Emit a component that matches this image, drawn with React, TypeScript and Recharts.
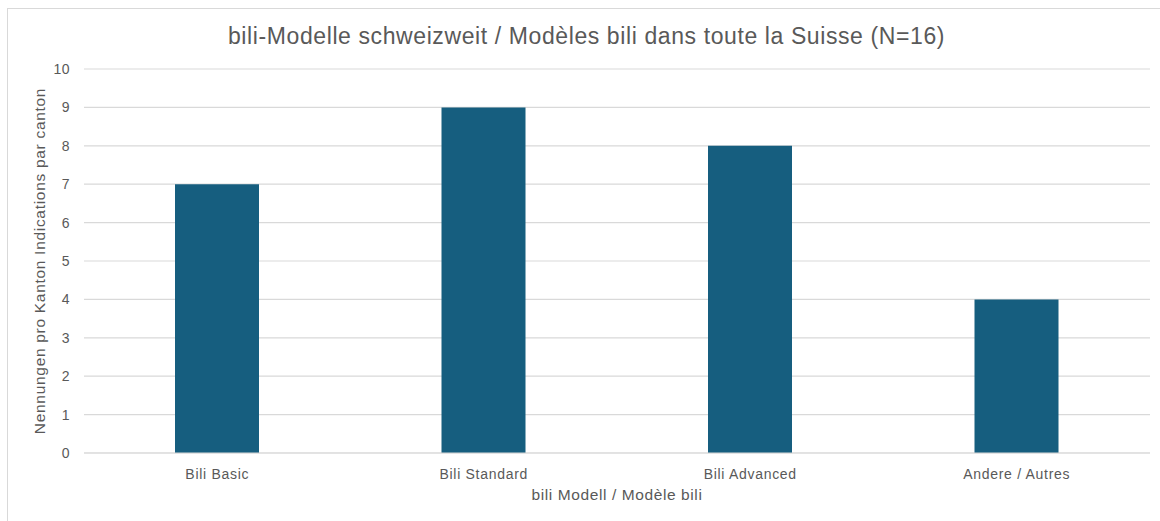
import React from "react";
import { BarChart, Bar, XAxis, YAxis, CartesianGrid } from "recharts";

const categories = ["Bili Basic", "Bili Standard", "Bili Advanced", "Andere / Autres"];
const counts = [7, 9, 8, 4];
const yTicks = [0, 1, 2, 3, 4, 5, 6, 7, 8, 9, 10];

const title = "bili-Modelle schweizweit / Modèles bili dans toute la Suisse (N=16)";
const xLabel = "bili Modell / Modèle bili";
const yLabel = "Nennungen pro Kanton Indications par canton";

const data = categories.map((c, i) => ({ name: c, value: counts[i] }));

const FONT = "'Liberation Sans', Arial, Helvetica, sans-serif";
const TXT = "#595959";

export default function App() {
  return (
    <div style={{ position: "absolute", left: 0, top: 0, width: 1160, height: 521, background: "#fff", fontFamily: FONT, overflow: "hidden" }}>
      <div style={{ position: "absolute", left: 7, top: 8, width: 1160, height: 600, borderLeft: "1.5px solid #d9d9d9", borderTop: "1.5px solid #d9d9d9", boxSizing: "border-box" }} />
      <BarChart width={1160} height={521} data={data} margin={{ top: 69, right: 10, left: 0, bottom: 38 }} style={{ position: "absolute", left: 0, top: 0 }}>
        <CartesianGrid vertical={false} stroke="#d9d9d9" strokeWidth={1.2} />
        <XAxis dataKey="name" axisLine={{ stroke: "#d9d9d9" }} tickLine={false} tickMargin={10} tick={{ fill: TXT, fontSize: 14, fontFamily: FONT, letterSpacing: 0.7 }} height={30} />
        <YAxis width={84} domain={[0, 10]} ticks={yTicks} axisLine={false} tickLine={false} tickMargin={8} tick={{ fill: TXT, fontSize: 14, fontFamily: FONT, letterSpacing: 0.5 }} interval={0} />
        <Bar dataKey="value" fill="#165e7f" barSize={84} isAnimationActive={false} />
      </BarChart>
      <div style={{ position: "absolute", left: 0, width: 1173, top: 23, textAlign: "center", fontSize: 23, letterSpacing: 0.6, color: TXT, whiteSpace: "nowrap" }}>{title}</div>
      <div style={{ position: "absolute", left: 84, width: 1066, top: 486, textAlign: "center", fontSize: 15.5, letterSpacing: 0.6, color: TXT, whiteSpace: "nowrap" }}>{xLabel}</div>
      <div style={{ position: "absolute", left: 40, top: 261, width: 0, height: 0 }}>
        <div style={{ position: "absolute", left: 0, top: 0, transform: "translate(-50%, -50%) rotate(-90deg)", fontSize: 15.5, letterSpacing: 0.7, color: TXT, whiteSpace: "nowrap" }}>{yLabel}</div>
      </div>
    </div>
  );
}
